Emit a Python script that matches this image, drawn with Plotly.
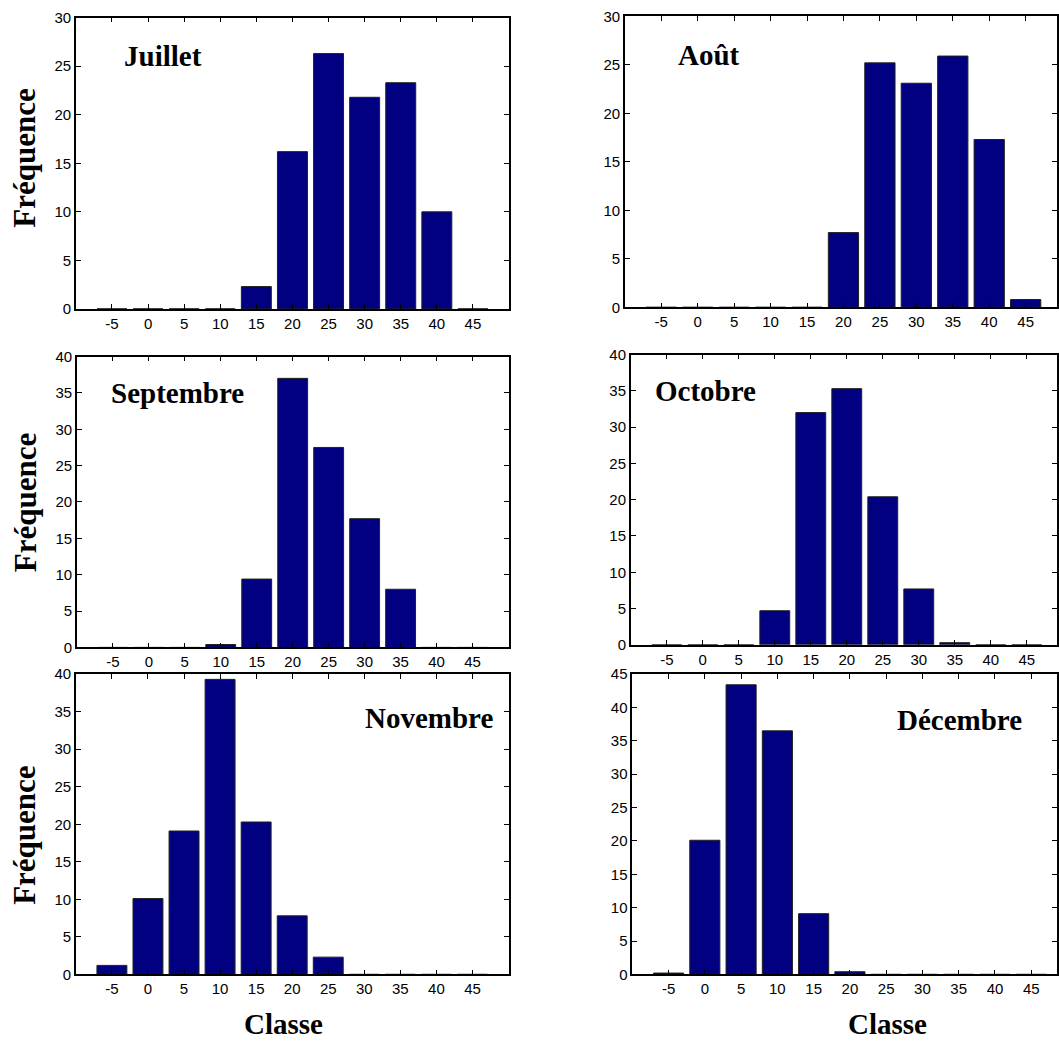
import plotly.graph_objects as go

# ---------------- data ----------------
classes = [-5, 0, 5, 10, 15, 20, 25, 30, 35, 40, 45]
juillet = [0, 0, 0, 0, 2.3, 16.2, 26.3, 21.8, 23.3, 10.0, 0]
aout = [0, 0, 0, 0, 0, 7.7, 25.2, 23.1, 25.9, 17.3, 0.8]
septembre = [0, 0, 0, 0.4, 9.4, 37.0, 27.5, 17.7, 8.0, 0, 0]
octobre = [0, 0, 0, 4.7, 32.0, 35.3, 20.4, 7.7, 0.3, 0, 0]
novembre = [1.2, 10.1, 19.1, 39.3, 20.3, 7.8, 2.3, 0, 0, 0, 0]
decembre = [0.2, 20.1, 43.4, 36.5, 9.1, 0.4, 0, 0, 0, 0, 0]

months = ["Juillet", "Août", "Septembre", "Octobre", "Novembre", "Décembre"]
series = [juillet, aout, septembre, octobre, novembre, decembre]
ymax = [30, 30, 40, 40, 40, 45]

# ---------------- layout geometry (pixels) ----------------
W, H = 1059, 1041
# (x0, x1, ytop, ybottom, xmax_of_range)
boxes = [
    (76, 510, 16.7, 308.3, 50),
    (626, 1059, 15.3, 306.7, 49.3),
    (77, 509.5, 356, 647.3, 50),
    (632, 1059, 354, 644.7, 49.2),
    (76, 509.5, 674, 974.7, 50),
    (633.5, 1059, 674, 974.7, 48.55),
]
# month label (left x, vertical centre)
label_pos = [(122, 55), (677, 54), (109, 393), (654, 391), (364, 718), (897, 720)]

def px(x):
    return x / W

def py(y):
    yf = (y - 8) / 0.985
    return 1 - yf / H

serif = "Liberation Serif, Times New Roman, Times, serif"
sans = "Liberation Sans, Arial, Helvetica, sans-serif"

fig = go.Figure()
layout = dict(
    width=W, height=H,
    margin=dict(l=0, r=0, t=0, b=0),
    paper_bgcolor="white", plot_bgcolor="white",
    showlegend=False,
    annotations=[],
)

for i, (name, vals) in enumerate(zip(months, series)):
    k = i + 1
    xa = "x" if k == 1 else f"x{k}"
    ya = "y" if k == 1 else f"y{k}"
    fig.add_trace(go.Bar(
        x=classes, y=vals, xaxis=xa, yaxis=ya, width=4.15,
        marker=dict(color="#000080", line=dict(color="#202020", width=1)),
        hoverinfo="x+y",
    ))
    x0, x1, yt, yb, xmax = boxes[i]
    common = dict(
        showline=True, linecolor="black", linewidth=1.5, mirror="ticks",
        ticks="inside", ticklen=5, tickwidth=1, tickcolor="black",
        showgrid=False, zeroline=False,
        tickfont=dict(family=sans, size=15, color="black"),
    )
    layout[f"xaxis{k}"] = dict(
        domain=[px(x0), px(x1)], anchor=ya, range=[-10, xmax],
        tickmode="array", tickvals=classes, ticktext=[str(c) for c in classes],
        **common,
    )
    layout[f"yaxis{k}"] = dict(
        domain=[py(yb), py(yt)], anchor=xa, range=[0, ymax[i]],
        tickmode="linear", tick0=0, dtick=5,
        **common,
    )
    lx, ly = label_pos[i]
    layout["annotations"].append(dict(
        text=name, xref="paper", yref="paper", x=px(lx), y=py(ly),
        xanchor="left", yanchor="middle", showarrow=False,
        font=dict(family=serif, size=29, color="black", weight="bold"),
    ))

# y-axis titles
for yc in (157, 502, 835):
    layout["annotations"].append(dict(
        text="Fréquence", xref="paper", yref="paper", x=px(25), y=py(yc),
        xanchor="center", yanchor="middle", textangle=-90, showarrow=False,
        font=dict(family=serif, size=31, color="black", weight="bold"),
    ))
# x-axis titles
for xc in (284, 889):
    layout["annotations"].append(dict(
        text="Classe", xref="paper", yref="paper", x=px(xc), y=py(1024),
        xanchor="center", yanchor="middle", showarrow=False,
        font=dict(family=serif, size=29, color="black", weight="bold"),
    ))

fig.update_layout(**layout)
fig.write_html(
    "out.html",
    config={"displayModeBar": False},
    post_script="document.body.style.margin='0';document.documentElement.style.overflow='hidden';",
)
